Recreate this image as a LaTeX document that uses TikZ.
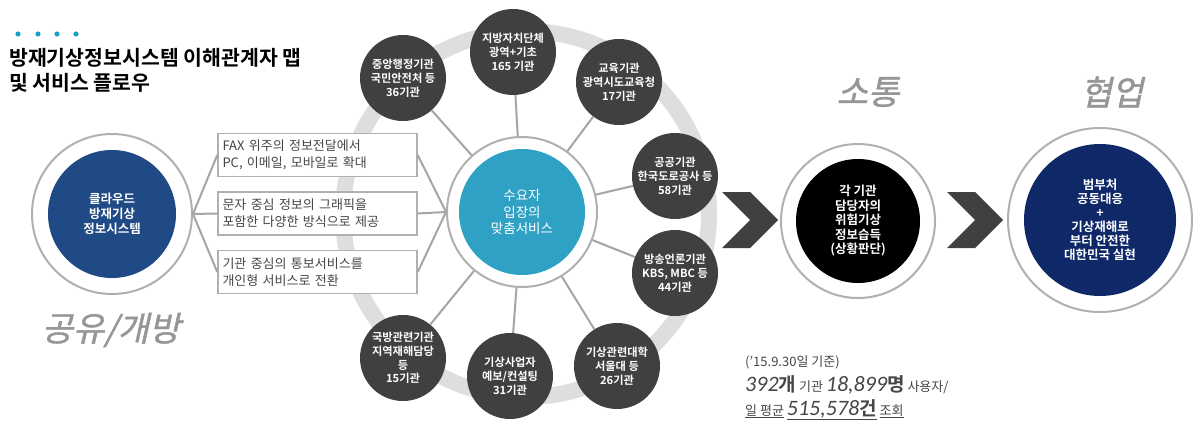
\documentclass[tikz,border=0pt]{standalone}
\usepackage{fontspec}
\setmainfont{Noto Sans CJK KR}[BoldFont={Noto Sans CJK KR Bold}]
\newfontfamily\tiltfont{Noto Sans CJK KR}[FakeSlant=0.22,FakeBold=1.2]
\newfontfamily\numfont{Carlito}
\usetikzlibrary{positioning}
\definecolor{mapCyan}{RGB}{27,161,201}
\definecolor{mapNavy}{RGB}{31,74,133}
\definecolor{mapDeepNavy}{RGB}{14,40,104}
\definecolor{mapTeal}{RGB}{47,161,197}
\definecolor{mapDark}{RGB}{64,64,64}
\definecolor{mapRing}{RGB}{176,176,176}
\definecolor{mapBand}{RGB}{222,222,222}
\definecolor{mapLine}{RGB}{165,165,165}
\definecolor{mapWord}{RGB}{150,150,150}
\definecolor{mapText}{RGB}{70,70,70}

\begin{document}
\begin{tikzpicture}[x=1pt,y=-1pt,
  ring/.style={circle,draw=mapRing,line width=2pt,fill=white,inner sep=0pt},
  core/.style={circle,inner sep=0pt,text=white,align=center},
  agency/.style={
    circle,
    fill=mapDark,
    minimum size=86pt,
    inner sep=0pt,
    text=white,
    align=center,
    font=\fontsize{11.2}{13.8}\selectfont\bfseries
  },
  note/.style={
    draw=mapRing,
    line width=1.5pt,
    fill=white,
    minimum width=199pt,
    minimum height=43pt,
    text width=190pt,
    align=left,
    text=mapText,
    font=\fontsize{13}{17}\selectfont
  },
  link/.style={draw=mapLine,line width=2pt},
  chevron/.style={fill=mapDark},
  stage/.style={font=\tiltfont\fontsize{34}{34}\selectfont,text=mapWord},
  stat/.style={anchor=base west,inner sep=0pt,text=mapText,font=\fontsize{13}{15}\selectfont}
]
  \useasboundingbox (0,0) rectangle (1197,423);
  \fill[white] (0,0) rectangle (1197,423);
  % grey band behind the agencies
  \draw[mapBand,line width=16pt] (526,214) circle[radius=183];

  % title
  \foreach \dx in {18,38,57,76}
    \fill[mapCyan] (\dx,34) circle[radius=2.6];
  \node[anchor=west,inner sep=0pt,align=left,font=\fontsize{20.5}{25}\selectfont\bfseries] (title) at (9,70)
    {방재기상정보시스템 이해관계자 맵\\및 서비스 플로우};

  % cloud system and the three service notes
  \node[ring,minimum size=160pt] (sysring) at (112,214) {};
  \node[core,fill=mapNavy,minimum size=128pt,font=\fontsize{12.5}{15}\selectfont\bfseries] (sys) at (sysring)
    {클라우드\\방재기상\\정보시스템};
  \node[note] (graphic) at (317.5,213.5) {문자 중심 정보의 그래픽을\\포함한 다양한 방식으로 제공};
  \node[note,above=14pt of graphic] (fax) {FAX 위주의 정보전달에서\\PC, 이메일, 모바일로 확대};
  \node[note,below=14pt of graphic] (personal) {기관 중심의 통보서비스를\\개인형 서비스로 전환};

  % hub and agencies
  \node[ring,minimum size=150pt] (hubring) at (522,212) {};
  \node[core,fill=mapTeal,minimum size=126pt,font=\fontsize{13.5}{16.5}\selectfont] (hub) at (hubring)
    {수요자\\입장의\\맞춤서비스};
  \node[agency] (central) at (403,78) {중앙행정기관\\국민안전처 등\\36기관};
  \node[agency] (local) at (513,52) {지방자치단체\\광역+기초\\165 기관};
  \node[agency] (school) at (619,82) {교육기관\\광역시도교육청\\17기관};
  \node[agency] (public) at (675,176) {공공기관\\한국도로공사 등\\58기관};
  \node[agency] (press) at (675,273) {방송언론기관\\KBS, MBC 등\\44기관};
  \node[agency] (college) at (617,366) {기상관련대학\\서울대 등\\26기관};
  \node[agency] (vendor) at (510,376) {기상사업자\\예보/컨설팅\\31기관};
  \node[agency] (defense) at (403,358) {국방관련기관\\지역재해담당\\등\\15기관};

  \foreach \b in {fax,graphic,personal} {
    \draw[link] (sysring.east) -- (\b.west);
    \draw[link] (\b.east) -- (hubring.west);
  }
  \foreach \s in {central,local,school,public,press,college,vendor,defense}
    \draw[link] (hubring) -- (\s);

  % chevrons
  \foreach \cx in {722,947}
    \fill[chevron] (\cx,192) -- ++(28,0) -- ++(28,28) -- ++(-28,28) -- ++(-28,0) -- ++(28,-28) -- cycle;

  % communication and cooperation
  \node[ring,minimum size=154pt] (sensering) at (858,221) {};
  \node[core,fill=black,minimum size=124pt,font=\fontsize{12.5}{14.5}\selectfont\bfseries] (sense) at (sensering)
    {각 기관\\담당자의\\위험기상\\정보습득\\(상황판단)};
  \node[ring,minimum size=184pt] (jointring) at (1100,220) {};
  \node[core,fill=mapDeepNavy,minimum size=152pt,font=\fontsize{12.5}{14}\selectfont\bfseries] (joint) at (jointring)
    {범부처\\공동대응\\+\\기상재해로\\부터 안전한\\대한민국 실현};

  \node[stage] (share) at (111,330) {공유/개방};
  \node[stage] (talk) at (868,92) {소통};
  \node[stage] (work) at (1112,92) {협업};

  % figures
  \node[stat] (asof) at (745,366) {('15.9.30일 기준)};
  \node[stat] (users) at (745,391)
    {{\numfont\itshape\fontsize{22}{22}\selectfont 392}{\fontsize{19}{19}\selectfont\bfseries 개} 기관
     {\numfont\itshape\fontsize{22}{22}\selectfont 18,899}{\fontsize{19}{19}\selectfont\bfseries 명} 사용자/};
  \node[stat] (views) at (745,415)
    {\underline{일 평균} \underline{{\numfont\itshape\fontsize{22}{22}\selectfont 515,578}{\fontsize{19}{19}\selectfont\bfseries 건}} \underline{조회}};
\end{tikzpicture}
\end{document}
